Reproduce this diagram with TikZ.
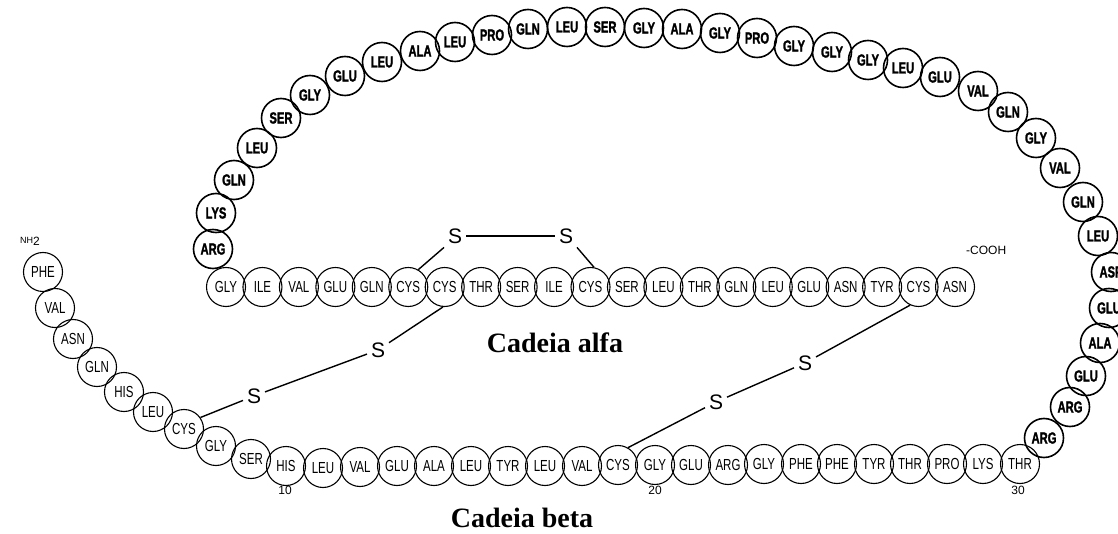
\documentclass[tikz,border=0pt]{standalone}
\usepackage{fontspec}
\setmainfont{Liberation Serif}
\newfontfamily\resfam[FakeStretch=0.72]{Liberation Sans}
\newfontfamily\heavyfam[FakeStretch=0.7,FakeBold=1.5]{Liberation Sans}
\newfontfamily\plainsans{Liberation Sans}
\begin{document}
\begin{tikzpicture}[x=1pt,y=-1pt,
  res/.style={circle,draw,line width=1.1pt,minimum size=39pt,inner sep=0pt,
    font=\resfam\fontsize{16}{16}\selectfont},
  cpep/.style={res,line width=1.6pt,font=\heavyfam\bfseries\fontsize{16}{16}\selectfont},
  sulfur/.style={inner sep=1pt,outer sep=3pt,font=\plainsans\fontsize{21}{21}\selectfont},
  bond/.style={line width=1.4pt},
  chainlabel/.style={font=\bfseries\fontsize{28}{28}\selectfont},
  smalltxt/.style={inner sep=0pt,font=\plainsans\fontsize{12}{12}\selectfont},
]
\useasboundingbox (0,0) rectangle (1118,534);
\fill[white] (0,0) rectangle (1118,534);

% A chain
\foreach \lab [count=\i] in {GLY,ILE,VAL,GLU,GLN,CYS,CYS,THR,SER,ILE,CYS,SER,LEU,THR,GLN,LEU,GLU,ASN,TYR,CYS,ASN}
  \node[res] (a\i) at ({226+36.45*(\i-1)},287) {\lab};

% B chain
\foreach \lab/\x/\y [count=\i] in {PHE/43/272,VAL/55/308,ASN/73/339,GLN/97/367,HIS/124/392,
  LEU/153/412,CYS/184/429,GLY/216/446,SER/251/459,HIS/286/466,LEU/323/468,VAL/360/467,
  GLU/397/466,ALA/434/466,LEU/471/466,TYR/508/466,LEU/545/466,VAL/582/466,CYS/618/465,
  GLY/655/465,GLU/691/465,ARG/728/465,GLY/764/464,PHE/801/464,PHE/837/464,TYR/874/464,
  THR/910/464,PRO/947/464,LYS/983/464,THR/1020/464}
  \node[res] (b\i) at (\x,\y) {\lab};

% connecting peptide
\foreach \lab/\x/\y [count=\i] in {ARG/1044/438,ARG/1070/407,GLU/1086/376,ALA/1100/343,
  GLU/1109/308,ASP/1111/272,LEU/1098/236,GLN/1083/202,VAL/1060/168,GLY/1036/138,
  GLN/1008/112,VAL/978/91,GLU/940/77,LEU/903/68,GLY/868/60,GLY/832/52,GLY/794/46,
  PRO/757/38,GLY/720/33,ALA/682/29,GLY/644/28,SER/605/27,LEU/567/27,GLN/528/29,
  PRO/492/35,LEU/455/42,ALA/420/51,LEU/382/62,GLU/345/76,GLY/310/95,SER/281/118,
  LEU/257/148,GLN/234/180,LYS/216/213,ARG/213/249}
  \node[cpep] (c\i) at (\x,\y) {\lab};

% sulfur atoms
\node[sulfur] (s1) at (455,236) {S};
\node[sulfur] (s2) at (566,236) {S};
\node[sulfur] (s3) at (378,350) {S};
\node[sulfur] (s4) at (254,396) {S};
\node[sulfur] (s5) at (805,363) {S};
\node[sulfur] (s6) at (716,402) {S};

% disulfide bridges
\draw[bond] (s1) -- (s2);
\draw[bond] (s1.south west) -- (a6.60);
\draw[bond] (s2.south east) -- (a11.80);
\draw[bond] (a7.265) -- (s3);
\draw[bond] (s3) -- (s4);
\draw[bond] (s4) -- (b7.35);
\draw[bond] (a20.245) -- (s5);
\draw[bond] (s5) -- (s6);
\draw[bond] (s6) -- (b19.60);

% termini and numbering
\node[smalltxt,anchor=west] (cooh) at (966,250) {-COOH};
\node[inner sep=0pt] (nh2) at (30,241) {\plainsans\fontsize{9}{9}\selectfont NH\raisebox{-2pt}{\fontsize{12}{12}\selectfont 2}};
\node[smalltxt] (n10) at (285,490) {10};
\node[smalltxt] (n20) at (655,490) {20};
\node[smalltxt] (n30) at (1018,490) {30};

% chain names
\node[chainlabel] (alfa) at (555,343) {Cadeia alfa};
\node[chainlabel] (beta) at (522,518) {Cadeia beta};
\end{tikzpicture}
\end{document}
